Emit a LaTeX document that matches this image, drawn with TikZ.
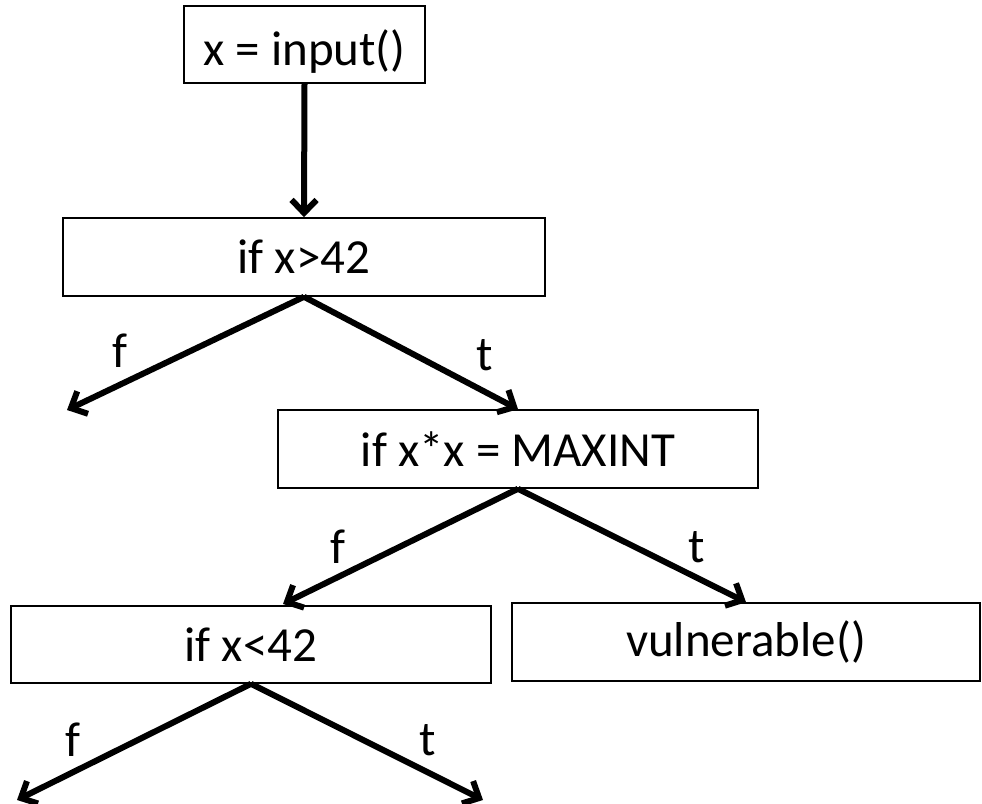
\documentclass[tikz,border=0pt]{standalone}
\usepackage{fontspec}
\setmainfont{Carlito}
\usetikzlibrary{arrows.meta}
\tikzset{
  box/.style={draw, line width=1.6pt, rectangle, inner sep=0pt, font=\fontsize{49}{58}\selectfont},
  lbl/.style={inner sep=0pt, font=\fontsize{49}{58}\selectfont},
  flow/.style={line width=6pt, -{Straight Barb[length=13pt,width=25pt,line width=6pt]}}
}
\begin{document}
\begin{tikzpicture}[x=1pt,y=-1pt]
\useasboundingbox (0,0) rectangle (982,803);
\node[box, minimum width=241pt, minimum height=77pt, text height=41pt, text depth=0pt] (b1) at (304.5,44.5) {x = input()};
\node[box, minimum width=482pt, minimum height=78pt] (b2) at (304,257) {if x>42};
\node[box, minimum width=480pt, minimum height=78pt] (b3) at (518,449) {if x*x = MAXINT};
\node[box, minimum width=480pt, minimum height=77pt] (b4) at (251,644.5) {if x<42};
\node[box, minimum width=468pt, minimum height=78pt] (b5) at (746,642) {vulnerable()};
\coordinate (e1) at (67,410);
\coordinate (e2) at (17,800);
\coordinate (e3) at (483,800);
\coordinate (t4) at (283,604);
\draw[flow] (b1.south) -- (b2.north);
\draw[flow] (b2.south) -- (e1);
\draw[flow] (b2.south) -- (b3.north);
\draw[flow] (b3.south) -- (t4);
\draw[flow] (b3.south) -- (b5.north);
\draw[flow] (b4.south) -- (e2);
\draw[flow] (b4.south) -- (e3);
\node[lbl] (f1) at (120,351) {f};
\node[lbl] (t1) at (485,355) {t};
\node[lbl] (f2) at (338,547) {f};
\node[lbl] (t2) at (697,547) {t};
\node[lbl] (f3) at (73,740) {f};
\node[lbl] (t3) at (428,740) {t};
\end{tikzpicture}
\end{document}
